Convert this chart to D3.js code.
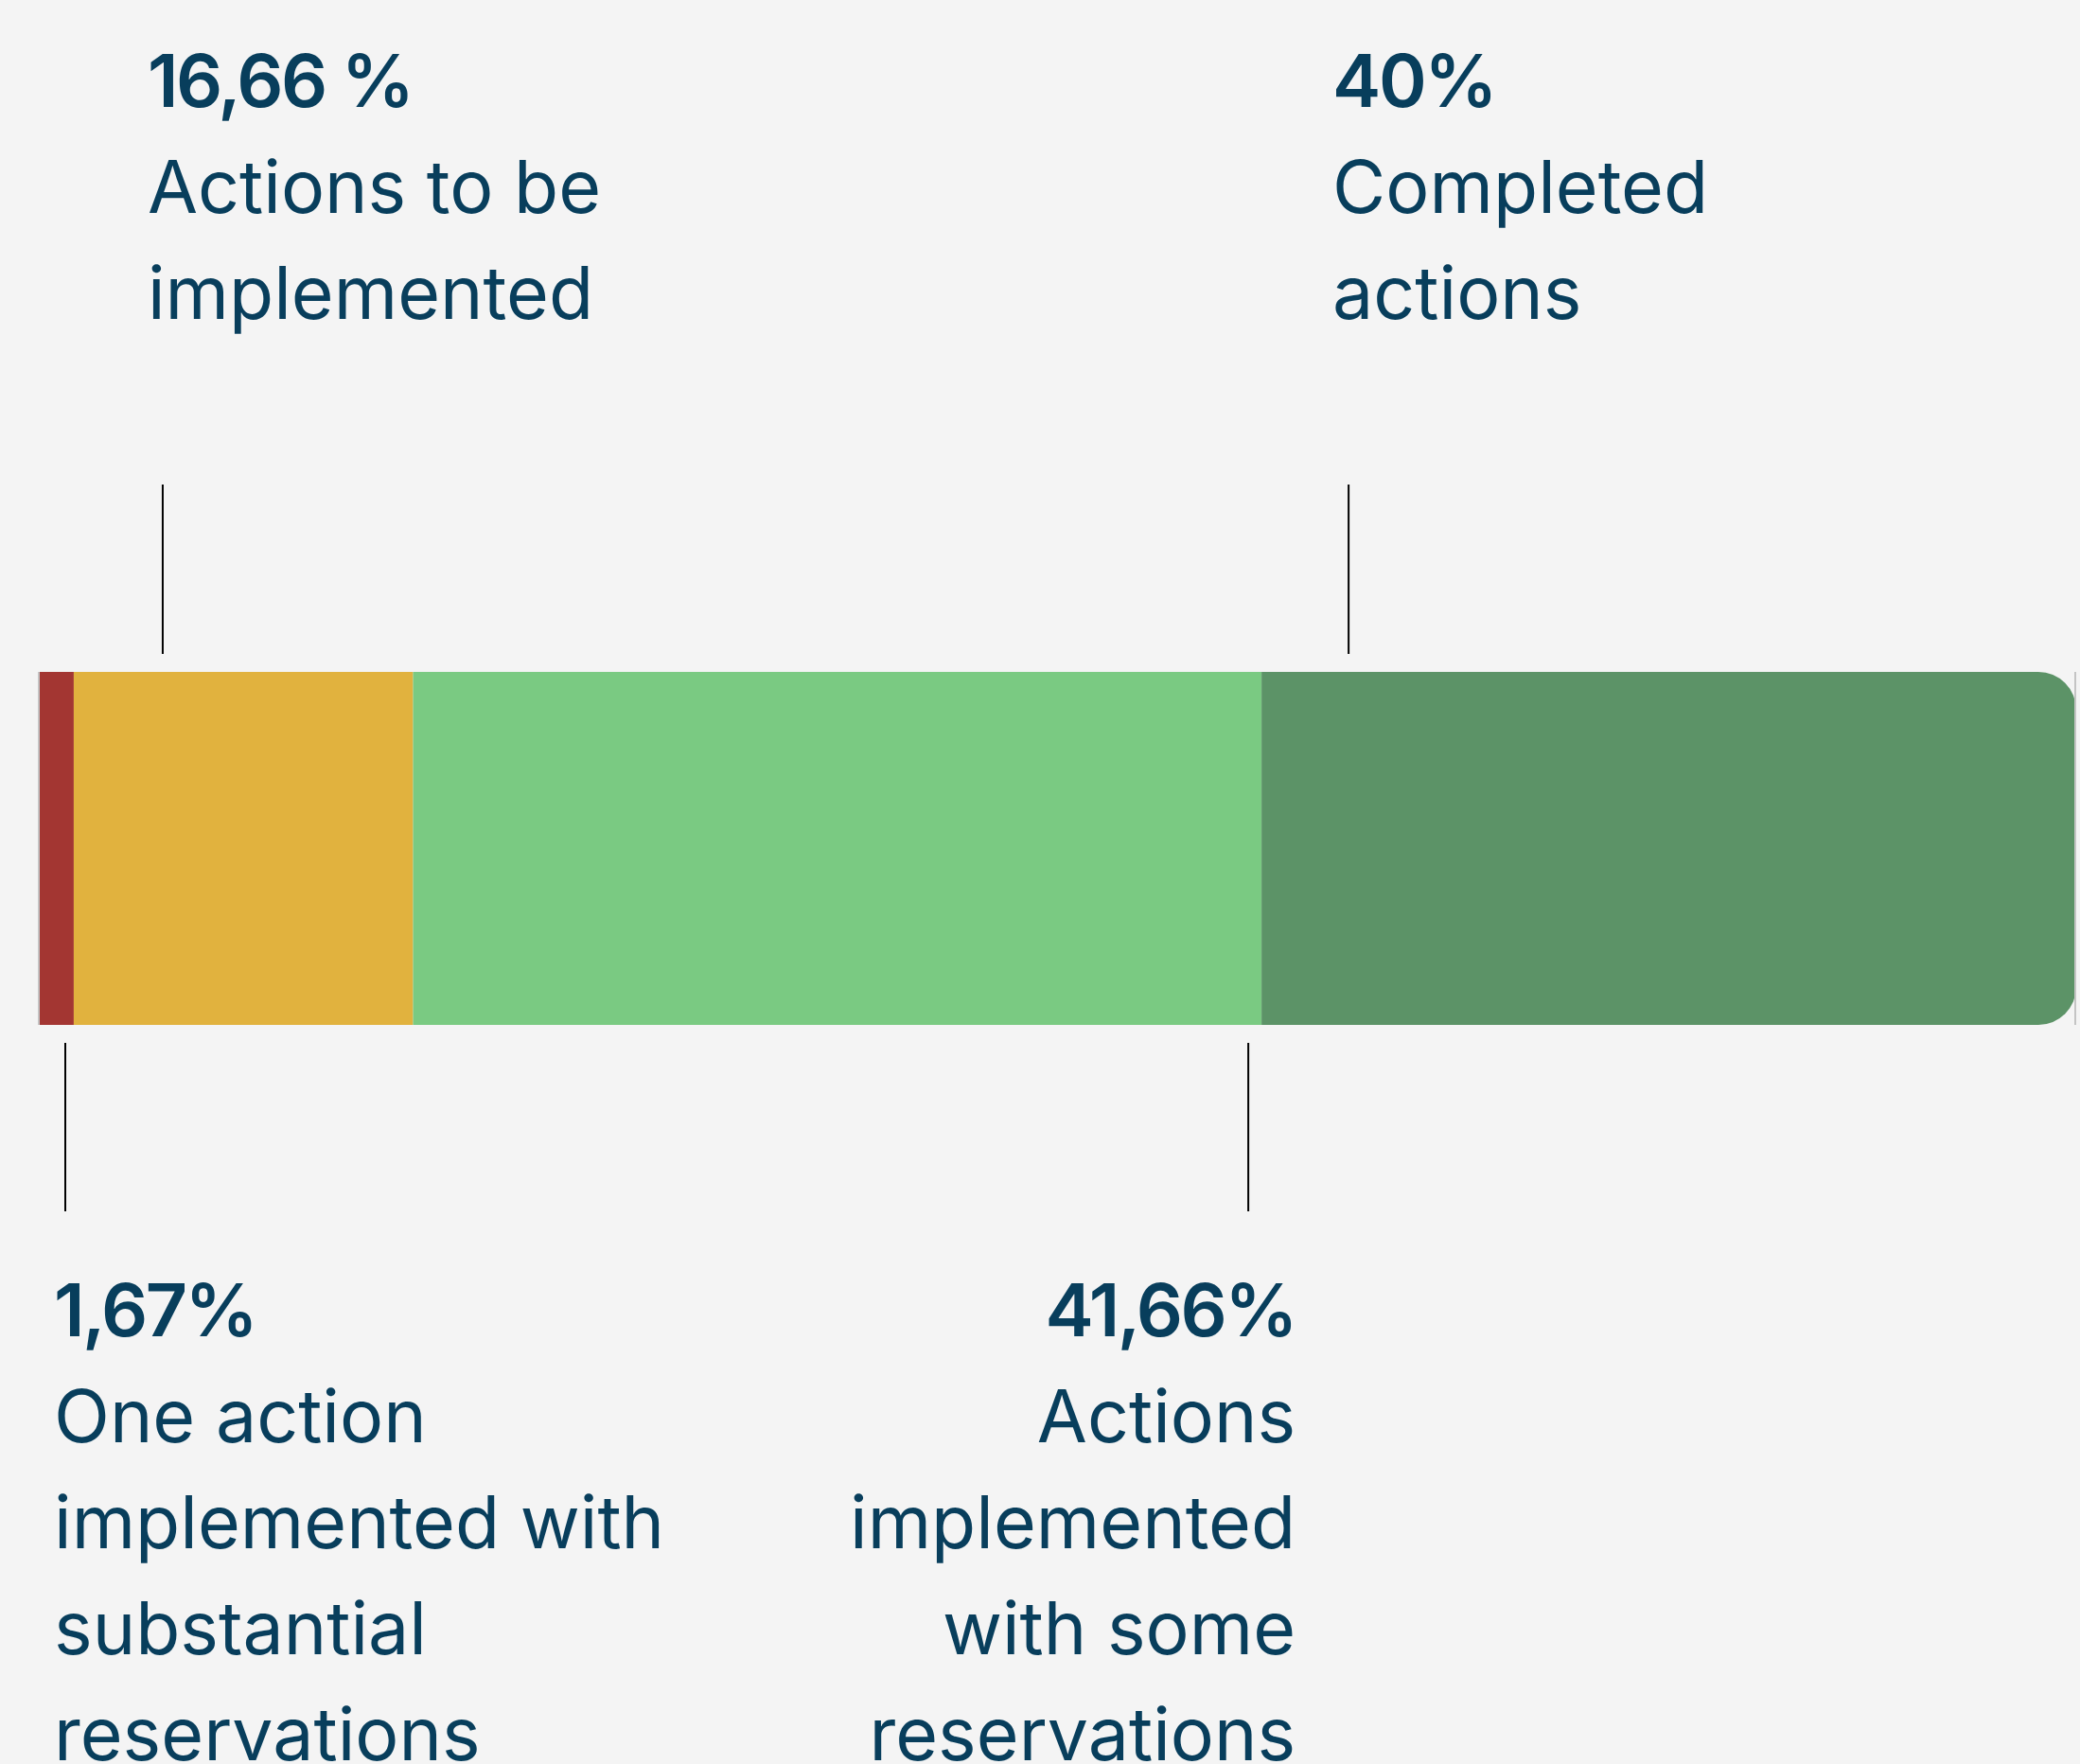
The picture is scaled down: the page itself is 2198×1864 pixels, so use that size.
<!DOCTYPE html>
<html><head><meta charset="utf-8">
<script src="https://cdn.jsdelivr.net/npm/d3@7"></script>
<style>html,body{margin:0;padding:0;background:#f4f4f4;} svg{display:block}</style>
</head><body><svg id="c"></svg>
<script>
const categories = ["One action implemented with substantial reservations", "Actions to be implemented", "Actions implemented with some reservations", "Completed actions"];
const values = [1.67, 16.66, 41.66, 40];
const valueLabels = ["1,67%", "16,66 %", "41,66%", "40%"];
const descLines = [
  ["One action", "implemented with", "substantial", "reservations"],
  ["Actions to be", "implemented"],
  ["Actions", "implemented", "with some", "reservations"],
  ["Completed", "actions"]
];
const colors = ["#a33632", "#e1b23e", "#7aca82", "#5c9367"];

const W = 2198, H = 1864;
const barTop = 710, barH = 373, radius = 40;
const textColor = "#083e5c";

const svg = d3.select("#c").attr("width", W).attr("height", H);
svg.append("rect").attr("width", W).attr("height", H).attr("fill", "#f4f4f4");

const total = d3.sum(values);
const x = d3.scaleLinear().domain([0, total]).range([42, 2194]);
const ends = Array.from(d3.cumsum(values));
const segs = values.map((v, i) => ({ i, v, x0: i === 0 ? 0 : ends[i - 1], x1: ends[i] }));

// bar segments
const g = svg.append("g");
segs.forEach(s => {
  const a = x(s.x0), b = x(s.x1), y0 = barTop, y1 = barTop + barH;
  if (s.i === segs.length - 1) {
    g.append("path")
      .attr("d", `M${a},${y0}H${b - radius}A${radius},${radius} 0 0 1 ${b},${y0 + radius}V${y1 - radius}A${radius},${radius} 0 0 1 ${b - radius},${y1}H${a}Z`)
      .attr("fill", colors[s.i]);
  } else {
    g.append("rect").attr("x", a).attr("y", y0).attr("width", b - a).attr("height", barH).attr("fill", colors[s.i]);
  }
});
// thin grey end markers
[x(0) - 1, x(total) - 1].forEach(px => {
  svg.append("line").attr("x1", px).attr("x2", px).attr("y1", barTop).attr("y2", barTop + barH)
    .attr("stroke", "#c4c4c4").attr("stroke-width", 2);
});

// annotation layout (side, anchor, reference edge, offsets)
const annLayout = [
  { side: "bottom", anchor: "start", edge: "x0", textDx: 15, lineDx: 27 },
  { side: "top", anchor: "start", edge: "x0", textDx: 78, lineDx: 94 },
  { side: "bottom", anchor: "end", edge: "x1", textDx: 36, lineDx: -14 },
  { side: "top", anchor: "start", edge: "x0", textDx: 75, lineDx: 92 }
];
const fontSize = 77, lineH = 112;

segs.forEach(s => {
  const L = annLayout[s.i];
  const ex = x(s[L.edge]);
  const tx = ex + L.textDx, lx = ex + L.lineDx;
  const top = L.side === "top";
  svg.append("line").attr("x1", lx).attr("x2", lx)
    .attr("y1", top ? 512 : 1102).attr("y2", top ? 691 : 1280)
    .attr("stroke", "#000").attr("stroke-width", 2);
  const base = top ? 113 : 1412;
  const tg = svg.append("g").attr("transform", `translate(${tx},0)`);
  tg.append("text").attr("x", 0).attr("y", base)
    .attr("text-anchor", L.anchor).attr("font-family", "Inter").attr("font-weight", 600)
    .attr("letter-spacing", -2.5)
    .attr("font-size", fontSize).attr("fill", textColor).text(valueLabels[s.i]);
  descLines[s.i].forEach((t, k) => {
    tg.append("text").attr("x", 0).attr("y", base + lineH * (k + 1))
      .attr("text-anchor", L.anchor).attr("font-family", "Inter").attr("font-weight", 400)
      .attr("font-size", fontSize).attr("fill", textColor).text(t);
  });
});
</script></body></html>
